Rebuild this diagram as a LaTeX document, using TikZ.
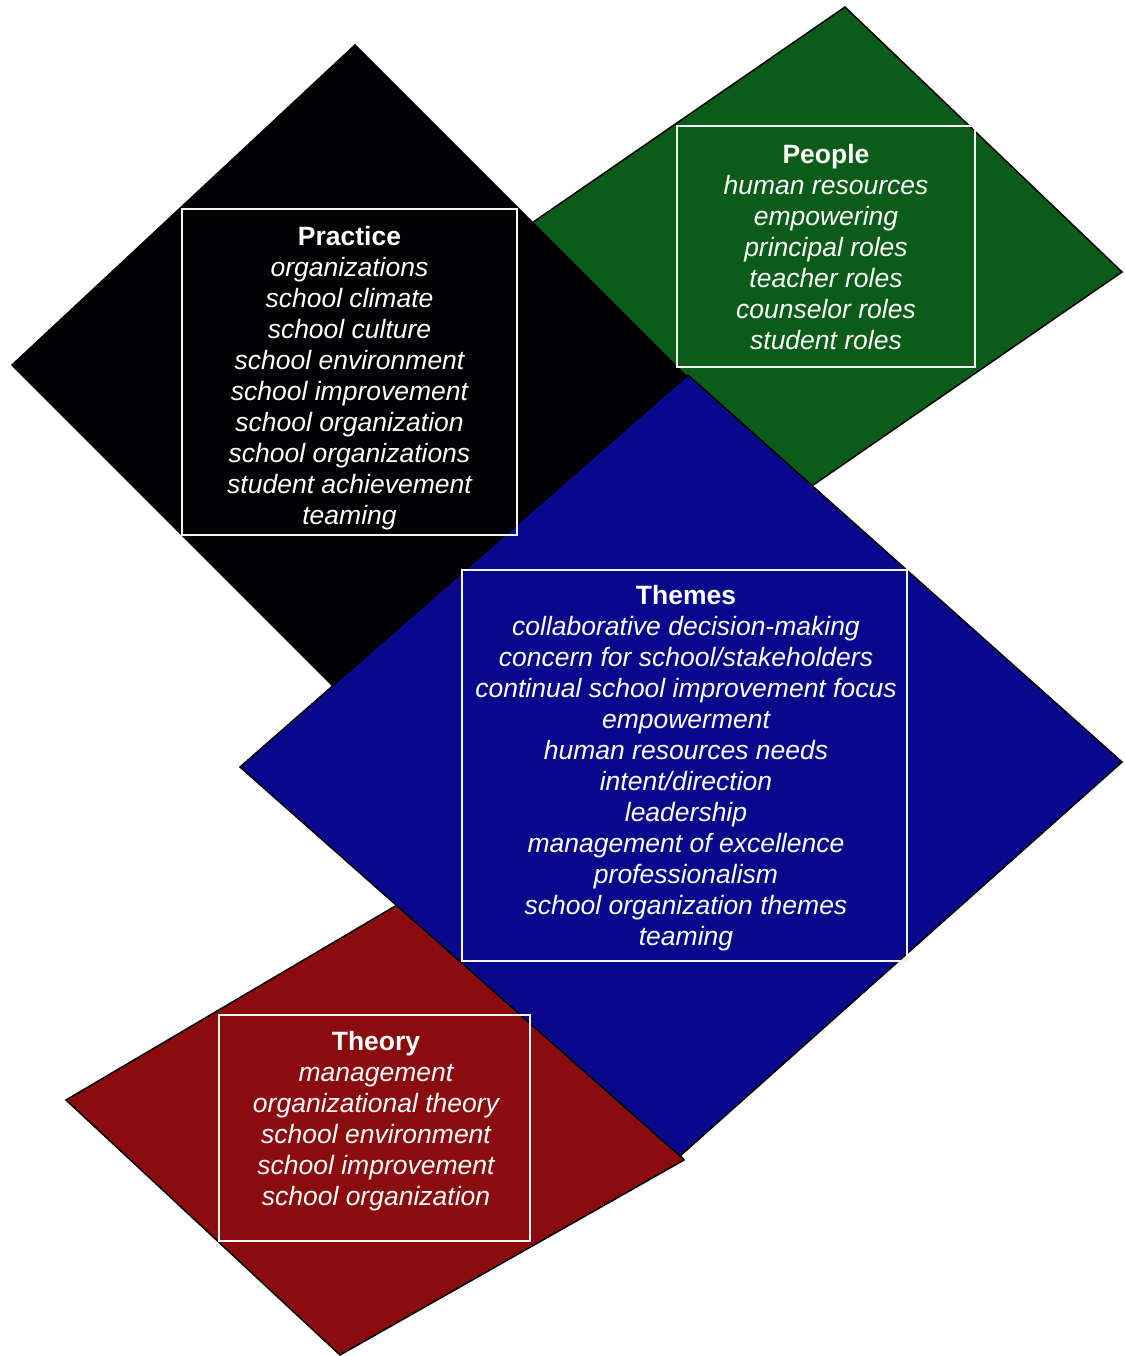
\documentclass[tikz,border=0pt]{standalone}
\usepackage{fontspec}
\setmainfont{Liberation Sans}
\definecolor{pgreen}{RGB}{10,92,24}
\definecolor{pblue}{RGB}{8,8,140}
\definecolor{pred}{RGB}{138,12,14}
\definecolor{pblack}{RGB}{2,2,4}
\begin{document}
\begin{tikzpicture}[x=1pt,y=-1pt,
  region/.style={draw=black, line width=1.5pt, line join=miter},
  boxframe/.style={draw=white!92!gray, line width=2pt, inner sep=0pt},
  boxtext/.style={text=white, font=\fontsize{26.5}{31}\selectfont\itshape, align=center, inner sep=0pt}]
\useasboundingbox[fill=white] (0,0) rectangle (1124,1356);
% shapes, back to front
\fill[region, fill=pgreen] (845,7) -- (1122,272) -- (777,510) -- (500,245) -- cycle;
\fill[region, fill=pblack] (355,45) -- (805,495) -- (462,815) -- (12,365) -- cycle;
\fill[region, fill=pred] (66,1100) -- (397,905) -- (560,1000) -- (684,1160) -- (340,1355) -- cycle;
\fill[region, fill=pblue] (688,375) -- (1122,762) -- (680,1156) -- (240,767) -- cycle;
% frames
\node[boxframe, minimum width=335pt, minimum height=326pt] (practicebox) at (349.5,372) {};
\node[boxframe, minimum width=298pt, minimum height=241pt] (peoplebox) at (826,246.5) {};
\node[boxframe, minimum width=445pt, minimum height=391pt] (themesbox) at (684.5,765.5) {};
\node[boxframe, minimum width=311pt, minimum height=226pt] (theorybox) at (374.5,1128) {};
% texts
\node[boxtext] (practicetext) at (349.5,378) {{\normalfont\bfseries Practice}\\organizations\\school climate\\school culture\\school environment\\school improvement\\school organization\\school organizations\\student achievement\\teaming};
\node[boxtext] (peopletext) at (826,247) {{\normalfont\bfseries People}\\human resources\\empowering\\principal roles\\teacher roles\\counselor roles\\student roles};
\node[boxtext] (themestext) at (686,768.5) {{\normalfont\bfseries Themes}\\collaborative decision-making\\concern for school/stakeholders\\continual school improvement focus\\empowerment\\human resources needs\\intent/direction\\leadership\\management of excellence\\professionalism\\school organization themes\\teaming};
\node[boxtext] (theorytext) at (376,1121) {{\normalfont\bfseries Theory}\\management\\organizational theory\\school environment\\school improvement\\school organization};
\end{tikzpicture}
\end{document}
